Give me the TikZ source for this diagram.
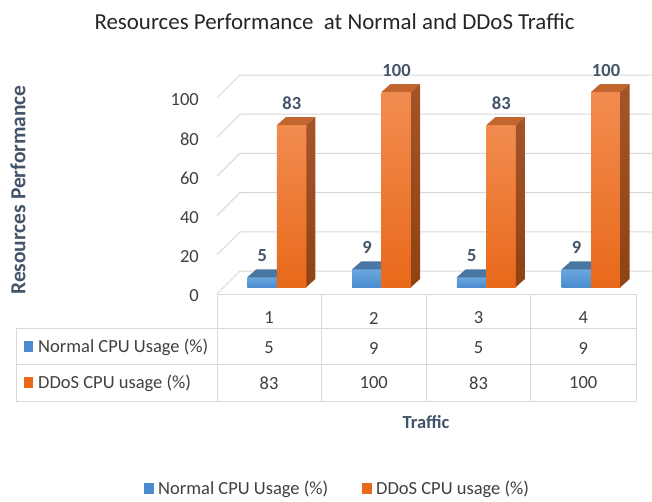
\documentclass[tikz,border=0pt]{standalone}
\usepackage{fontspec}
\setmainfont{Carlito}
\definecolor{gridc}{HTML}{D9D9D9}
\definecolor{txt}{HTML}{404040}
\definecolor{lbl}{HTML}{44546A}
\definecolor{bluefT}{HTML}{6BA7DD}
\definecolor{bluefB}{HTML}{4A8CCF}
\definecolor{bluetop}{HTML}{4A77A2}
\definecolor{orfT}{HTML}{F28C50}
\definecolor{orfB}{HTML}{E8691A}
\definecolor{ortop}{HTML}{C2652E}
\definecolor{orsideT}{HTML}{A5542A}
\definecolor{orsideB}{HTML}{8E4313}
\newcommand\fs[1]{\fontsize{#1}{#1}\selectfont}
\tikzset{
  gridline/.style={draw=gridc, line width=1pt},
  tabline/.style={draw=gridc, line width=1pt},
  ticklbl/.style={anchor=east, text=txt, font=\fs{18.5}, inner sep=0pt},
  datalbl/.style={text=lbl, font=\fs{18.5}\bfseries, inner sep=0pt},
  cell/.style={text=txt, font=\fs{18.5}, inner sep=0pt},
  keyblue/.style={fill=bluefB, draw=none},
  keyorange/.style={fill=orfB, draw=none},
}
% #1 name, #2 left x, #3 value, #4 series (b/o)
\newcommand\cbar[4]{%
  \pgfmathsetmacro\T{287-1.95*#3}%
  \pgfmathsetmacro\R{#2+29.5}%
  \ifx#4b
    \shade[top color=bluefT, bottom color=bluefB] (#2,287) rectangle (\R,\T);
    \fill[bluetop] (#2,\T) -- (#2+9,\T-8) -- (\R+9,\T-8) -- (\R,\T) -- cycle;
  \else
    \shade[top color=orfT, bottom color=orfB] (#2,287) rectangle (\R,\T);
    \fill[ortop] (#2,\T) -- (#2+9,\T-8) -- (\R+9,\T-8) -- (\R,\T) -- cycle;
    \shade[top color=orsideT, bottom color=orsideB] (\R,287) -- (\R,\T) -- (\R+9,\T-8) -- (\R+9,279) -- cycle;
  \fi
  \node[datalbl] (#1) at (#2+15,\T-22) {#3};
}
\begin{document}
\begin{tikzpicture}[x=1pt,y=-1pt]
\useasboundingbox (0,0) rectangle (652,501);
\fill[white] (0,0) rectangle (652,501);
% title
\node[text=black!85, font=\fs{22.9}, inner sep=0pt] (title) at (334.5,22) {Resources Performance\ \ at Normal and DDoS Traffic};
% y axis title
\node[text=lbl, font=\fs{21.5}\bfseries, rotate=90, inner sep=0pt] (ytitle) at (18,190) {Resources Performance};
% grid
\foreach \v in {0,20,...,100}{
  \pgfmathsetmacro\yb{271-1.96*\v}
  \draw[gridline] (217,\yb+23) -- (240,\yb) -- (652,\yb);
  \node[ticklbl] (tick\v) at (199,\yb+25) {\v};
}
% bars
\foreach \i/\a/\b in {0/5/83,1/9/100,2/5/83,3/9/100}{
  \pgfmathsetmacro\L{217+104.75*\i+30.3}
  \pgfmathsetmacro\Lo{\L+29.5}
  \cbar{nb\i}{\L}{\a}{b}
  \cbar{no\i}{\Lo}{\b}{o}
}
% table
\draw[tabline] (217,294) -- (636,294);
\draw[tabline] (16,328) -- (636,328);
\draw[tabline] (16,364) -- (636,364);
\draw[tabline] (16,401) -- (636,401);
\draw[tabline] (16,328) -- (16,401);
\foreach \x in {217,321.5,426,530.5,636}{
  \draw[tabline] (\x,294) -- (\x,401);
}
\foreach \i/\h/\a/\b in {0/1/5/83,1/2/9/100,2/3/5/83,3/4/9/100}{
  \pgfmathsetmacro\cx{269+104.75*\i}
  \node[cell] (h\i) at (\cx,318) {\h};
  \node[cell] (ra\i) at (\cx,348) {\a};
  \node[cell] (rb\i) at (\cx,383) {\b};
}
\fill[keyblue] (24,341) rectangle (33,352);
\node[cell, anchor=west] (rowa) at (38,347) {Normal CPU Usage (\%)};
\fill[keyorange] (24,377) rectangle (33,388);
\node[cell, anchor=west] (rowb) at (38,383) {DDoS CPU usage (\%)};
% x axis title
\node[text=lbl, font=\fs{18.5}\bfseries, inner sep=0pt] (xtitle) at (426,422) {Traffic};
% legend
\fill[keyblue] (144,483) rectangle (154,494);
\node[cell, anchor=west] (lega) at (158,489) {Normal CPU Usage (\%)};
\fill[keyorange] (362,483) rectangle (372,494);
\node[cell, anchor=west] (legb) at (376,489) {DDoS CPU usage (\%)};
\end{tikzpicture}
\end{document}
